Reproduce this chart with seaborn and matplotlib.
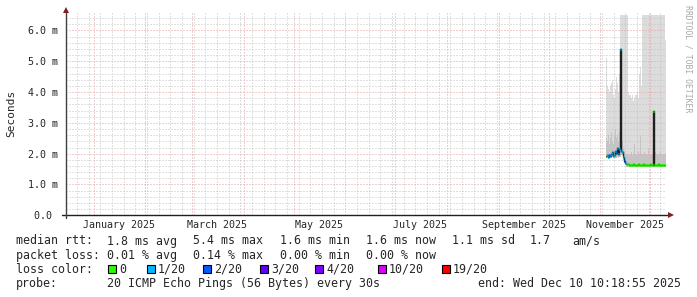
import numpy as np
import pandas as pd
import matplotlib
matplotlib.use("Agg")
import matplotlib.pyplot as plt
import matplotlib.dates as mdates
from matplotlib.patches import Rectangle
from matplotlib.lines import Line2D
import seaborn as sns

# ---------------- data ----------------
end_time = "2025-12-10 10:18:55"
span_days = 360
first_sample = "2025-11-04 10:18:55"
sample_hours = 14.4

median_ms = [1.93, 1.95, 1.90, 1.97, 1.92, 1.98, 2.05, 1.93, 1.95, 2.10,
             2.02, 2.18, 1.98, 2.15, 5.40, 2.10, 2.05, 1.88, 1.75, 1.70,
             1.66, 1.66, 1.65, 1.64, 1.64, 1.63, 1.64, 1.65, 1.64, 1.63,
             1.64, 1.64, 1.65, 1.64, 1.63, 1.64, 1.64, 1.65, 1.64, 1.63,
             1.64, 1.64, 1.63, 1.64, 1.65, 1.64, 1.63, 3.40, 1.64, 1.64,
             1.63, 1.64, 1.65, 1.64, 1.64, 1.63, 1.64, 1.64, 1.64, 1.63]
loss_count = [0, 1, 1, 2, 1, 1, 1, 0, 1, 1,
              2, 1, 1, 1, 1, 1, 1, 1, 2, 1,
              0, 0, 0, 0, 0, 0, 0, 0, 0, 0,
              0, 0, 0, 0, 0, 0, 0, 0, 0, 0,
              0, 0, 0, 0, 0, 0, 0, 0, 0, 0,
              0, 0, 0, 0, 0, 0, 0, 0, 0, 0]
smoke_max_ms = [5.1, 4.2, 4.1, 4.0, 4.2, 4.3, 4.4, 3.9, 3.8, 4.1,
                4.5, 4.3, 4.0, 4.6, 6.5, 6.5, 6.5, 6.5, 6.5, 6.5,
                6.5, 6.5, 4.0, 3.9, 3.9, 3.8, 3.9, 3.7, 3.8, 3.9,
                3.9, 4.0, 3.8, 4.6, 4.8, 4.2, 6.5, 6.5, 6.5, 6.5,
                6.5, 6.5, 6.5, 6.5, 6.5, 6.5, 6.5, 6.5, 6.5, 6.5,
                6.5, 6.5, 6.5, 6.5, 6.5, 6.5, 6.5, 6.5, 6.5, 5.7]
smoke_mid_ms = [2.5, 2.4, 2.6, 2.3, 2.5, 2.7, 2.4, 2.3, 2.6, 2.8,
                2.5, 2.6, 2.4, 2.7, 2.9, 2.6, 2.4, 2.2, 2.1, 2.0,
                2.0, 2.0, 2.0, 1.95, 2.0, 2.05, 1.95, 2.0, 2.3, 2.0,
                1.95, 2.0, 2.1, 2.0, 2.6, 2.0, 1.95, 2.0, 2.05, 2.0,
                1.95, 2.0, 2.2, 2.0, 2.0, 1.95, 2.0, 2.5, 2.0, 2.05,
                2.0, 1.95, 2.0, 2.0, 2.1, 2.0, 1.95, 2.0, 2.0, 2.0]
smoke_min_ms = [1.85, 1.86, 1.84, 1.85, 1.86, 1.87, 1.88, 1.85, 1.84, 1.86,
                1.87, 1.88, 1.86, 1.88, 1.90, 1.95, 1.95, 1.80, 1.70, 1.62,
                1.57, 1.57, 1.57, 1.57, 1.57, 1.57, 1.57, 1.57, 1.57, 1.57,
                1.57, 1.57, 1.57, 1.57, 1.57, 1.57, 1.57, 1.57, 1.57, 1.57,
                1.57, 1.57, 1.57, 1.57, 1.57, 1.57, 1.57, 1.57, 1.57, 1.57,
                1.57, 1.57, 1.57, 1.57, 1.57, 1.57, 1.57, 1.57, 1.57, 1.57]

y_ticks = [0, 1, 2, 3, 4, 5, 6]
y_max = 6.6
month_labels = ["January 2025", "March 2025", "May 2025", "July 2025",
                "September 2025", "November 2025"]
month_label_starts = ["2025-01-01", "2025-03-01", "2025-05-01", "2025-07-01",
                      "2025-09-01", "2025-11-01"]

loss_levels = ["0", "1/20", "2/20", "3/20", "4/20", "10/20", "19/20"]
loss_counts_for_color = [0, 1, 2, 3, 4, 10, 19]
loss_colors = ["#26ff00", "#00b8ff", "#0059ff", "#5e00ff", "#7e00ff", "#dd00ff", "#ff0000"]

rtt_items = ["1.8 ms avg", "5.4 ms max", "1.6 ms min", "1.6 ms now", "1.1 ms sd", "1.7", "am/s"]
loss_items = ["0.01 % avg", "0.14 % max", "0.00 % min", "0.00 % now"]
probe_text = "20 ICMP Echo Pings (56 Bytes) every 30s"
end_text = "end: Wed Dec 10 10:18:55 2025"

# ---------------- figure ----------------
W, H = 697, 297
sns.set_style("white")
plt.rcParams["font.family"] = ["DejaVu Sans Mono"]

fig = plt.figure(figsize=(W / 100, H / 100), dpi=100)
fig.patch.set_facecolor("white")

def fx(x):
    return x / W

def fy(y):
    return 1 - y / H

y0_px, ytop_px = 215.3, 12.0
ax = fig.add_axes([fx(66), fy(y0_px), 600 / W, (y0_px - ytop_px) / H])
ax.set_facecolor("white")

end = pd.Timestamp(end_time)
start = end - pd.Timedelta(days=span_days)
n = len(median_ms)
edges = pd.Timestamp(first_sample) + np.arange(n + 1) * pd.Timedelta(hours=sample_hours)

def ext(v):
    return list(v) + [v[-1]]

# smoke
ax.fill_between(edges, ext(smoke_min_ms), ext(smoke_max_ms), step="post",
                color="#dcdcdc", lw=0, zorder=1)
ax.fill_between(edges, ext(smoke_min_ms), ext(smoke_mid_ms), step="post",
                color="#c4c4c4", lw=0, zorder=1.1)

# median dark line
med_df = pd.DataFrame({"t": edges, "ms": ext(median_ms)})
sns.lineplot(data=med_df, x="t", y="ms", ax=ax, color="#202020", lw=1.0,
             drawstyle="steps-post", estimator=None, zorder=3)

# colored median by loss
cmap = dict(zip(loss_counts_for_color, loss_colors))
seg_colors = [cmap[l] for l in loss_count]
ax.hlines(median_ms, edges[:-1], edges[1:], colors=seg_colors, lw=2.2, zorder=4)

ax.set_xlabel("")
ax.set_ylabel("")
ax.set_xlim(start, end)
ax.set_ylim(0, y_max)

# grid
ax.xaxis.set_major_locator(mdates.MonthLocator())
ax.xaxis.set_minor_locator(mdates.WeekdayLocator(byweekday=mdates.SU))
ax.xaxis.set_major_formatter(plt.NullFormatter())
ax.set_yticks(y_ticks)
ax.set_yticks(np.arange(0, y_max, 0.2), minor=True)
ax.set_yticklabels([("%.1f m" % v) if v else "0.0 " for v in y_ticks],
                   fontsize=7.2)
ax.grid(which="major", color="#e6a0a0", lw=0.72, ls=(0, (1, 2)), zorder=2.5)
ax.grid(which="minor", color="#c4c4c4", lw=0.72, ls=(0, (1, 2)), zorder=2.4)
ax.set_axisbelow(False)
ax.tick_params(axis="both", which="both", direction="out", color="#808080",
               width=0.72)
ax.tick_params(axis="y", which="major", length=3, pad=3)
ax.tick_params(axis="y", which="minor", length=1.5)
ax.tick_params(axis="x", which="both", length=1.5)
for s in ax.spines.values():
    s.set_visible(False)

# month labels (centered half a month after the month start)
for lab, d in zip(month_labels, month_label_starts):
    xd = pd.Timestamp(d) + pd.Timedelta(days=15)
    ax.text(xd, -(227.5 - y0_px) / (y0_px - ytop_px) * y_max, lab,
            ha="center", va="baseline", fontsize=7.2, clip_on=False)

# axis lines & arrows (axes fraction)
def axf_x(px):
    return (px - 66) / 600

def axf_y(py):
    return (y0_px - py) / (y0_px - ytop_px)

ax.add_line(Line2D([axf_x(62), axf_x(669)], [0, 0], transform=ax.transAxes,
                   color="#1f1f1f", lw=1.0, clip_on=False, zorder=5))
ax.add_line(Line2D([0, 0], [axf_y(218), axf_y(11)], transform=ax.transAxes,
                   color="#404040", lw=1.0, clip_on=False, zorder=5))
ax.plot([axf_x(671)], [0], marker=">", ms=4.2, color="#801f1f",
        transform=ax.transAxes, clip_on=False, zorder=6, mew=0)
ax.plot([0], [axf_y(10)], marker="^", ms=4.2, color="#801f1f",
        transform=ax.transAxes, clip_on=False, zorder=6, mew=0)

# y label
fig.text(fx(11), fy(113.5), "Seconds", rotation=90, ha="center", va="center",
         fontsize=8)
# credit
fig.text(fx(688), fy(5), "RRDTOOL / TOBI OETIKER", rotation=270, ha="center",
         va="top", fontsize=5.9, color="#a8a8a8")

# legend text
fs = 8.4
def t(x, y, s, **kw):
    fig.text(fx(x), fy(y), s, fontsize=fs, va="baseline", ha="left", **kw)

b1, b2, b3, b4 = 244.5, 258.6, 272.7, 286.8
t(16, b1, "median rtt:")
for x, s in zip([107, 193, 280, 366, 452, 530, 572], rtt_items):
    t(x, b1, s)
t(16, b2, "packet loss:")
for x, s in zip([107, 193, 280, 366], loss_items):
    t(x, b2, s)
t(16, b3, "loss color:")
sq_x = [108, 147, 203, 260, 315, 378, 442]
for x, c, lab in zip(sq_x, loss_colors, loss_levels):
    fig.patches.append(Rectangle((fx(x), fy(273)), 8 / W, 8 / H,
                                 transform=fig.transFigure, facecolor=c,
                                 edgecolor="black", lw=0.8))
    t(x + 11, b3, lab)
t(16, b4, "probe:")
t(107, b4, probe_text)
fig.text(fx(681), fy(b4), end_text, fontsize=fs, va="baseline", ha="right")

fig.savefig("out.png", dpi=100, facecolor="white")
